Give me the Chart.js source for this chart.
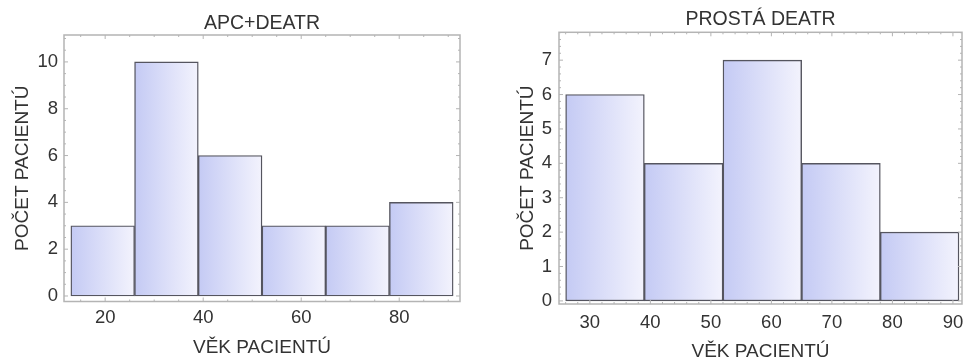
<!DOCTYPE html>
<html><head><meta charset="utf-8">
<script src="https://cdn.jsdelivr.net/npm/chart.js@4"></script>
<style>
html,body{margin:0;padding:0;background:#fff;overflow:hidden;width:963px;height:362px;}
#l{position:absolute;left:0;top:0;width:481px;height:362px;}
#r{position:absolute;left:481px;top:0;width:482px;height:362px;}
</style></head><body>
<div id="l"><canvas id="c1"></canvas></div>
<div id="r"><canvas id="c2"></canvas></div>
<script>
// ---- data ----
const leftTitle = 'APC+DEATR';
const leftBinEdges = [13, 26, 39, 52, 65, 78, 91];
const leftCounts = [3, 10, 6, 3, 3, 4];
const leftXTicks = [20, 40, 60, 80];
const leftYTicks = [0, 2, 4, 6, 8, 10];

const rightTitle = 'PROSTÁ DEATR';
const rightBinEdges = [26, 39, 52, 65, 78, 91];
const rightCounts = [6, 4, 7, 4, 2];
const rightXTicks = [30, 40, 50, 60, 70, 80, 90];
const rightYTicks = [0, 1, 2, 3, 4, 5, 6, 7];

const xAxisTitle = 'VĚK PACIENTÚ';
const yAxisTitle = 'POČET PACIENTÚ';

// ---- styling ----
const FONT = 'Liberation Sans, Arial, sans-serif';
const TEXT = '#333333';

const framePlugin = {
  id: 'frame',
  afterDatasetsDraw(chart, args, opts) {
    const {ctx, chartArea: a, scales: {x, y}} = chart;
    ctx.save();
    ctx.strokeStyle = '#b4b4b4';
    ctx.lineWidth = 1.5;
    ctx.strokeRect(a.left, a.top, a.right - a.left, a.bottom - a.top);
    ctx.lineWidth = 1;
    const tick = (x1, y1, x2, y2) => { ctx.beginPath(); ctx.moveTo(x1, y1); ctx.lineTo(x2, y2); ctx.stroke(); };
    for (let v = Math.ceil(x.min / opts.xMinor) * opts.xMinor; v <= x.max; v += opts.xMinor) {
      const px = x.getPixelForValue(v);
      const major = Math.abs(v / opts.xMajor - Math.round(v / opts.xMajor)) < 1e-6;
      const len = major ? 4 : 2;
      tick(px, a.bottom, px, a.bottom - len);
      tick(px, a.top, px, a.top + len);
    }
    for (let v = Math.ceil(y.min / opts.yMinor) * opts.yMinor; v <= y.max + 1e-9; v += opts.yMinor) {
      const py = y.getPixelForValue(v);
      const major = Math.abs(v / opts.yMajor - Math.round(v / opts.yMajor)) < 1e-6;
      const len = major ? 4 : 2;
      tick(a.left, py, a.left + len, py);
      tick(a.right, py, a.right - len, py);
    }
    ctx.restore();
  }
};

function makeChart(id, cfg) {
  const edges = cfg.edges;
  const data = cfg.counts.map((c, i) => ({x: (edges[i] + edges[i + 1]) / 2, y: c}));
  return new Chart(document.getElementById(id), {
    type: 'bar',
    data: {datasets: [{
      data,
      barThickness: 'flex',
      barPercentage: 1,
      categoryPercentage: 1,
      borderWidth: 1.4,
      borderColor: '#55555f',
      borderSkipped: false,
      backgroundColor: (c) => {
        const sx = c.chart.scales && c.chart.scales.x;
        if (!sx || c.dataIndex === undefined) return '#dde0f8';
        const i = c.dataIndex;
        const x0 = sx.getPixelForValue(edges[i]);
        const x1 = sx.getPixelForValue(edges[i + 1]);
        if (!isFinite(x0) || !isFinite(x1) || x1 <= x0) return '#dde0f8';
        const g = c.chart.ctx.createLinearGradient(x0, 0, x1, 0);
        g.addColorStop(0, '#c4caf4');
        g.addColorStop(1, '#f3f3fd');
        return g;
      }
    }]},
    options: {
      responsive: true,
      maintainAspectRatio: false,
      animation: false,
      layout: {padding: {left: 0, right: cfg.padRight, top: 0, bottom: 0}},
      plugins: {
        legend: {display: false},
        tooltip: {enabled: false},
        title: {
          display: true, text: cfg.title, fullSize: false, color: TEXT,
          font: {family: FONT, size: 19.5, weight: 'normal', lineHeight: 1.2},
          padding: {top: cfg.titleTop, bottom: cfg.titleBottom}
        },
        frame: cfg.frame
      },
      scales: {
        x: {
          type: 'linear', min: cfg.xMin, max: cfg.xMax, offset: false,
          afterFit(s) { s.height = cfg.xAxisH; s.paddingLeft = 0; s.paddingRight = 0; },
          afterBuildTicks(s) { s.ticks = cfg.xTicks.map(v => ({value: v})); },
          grid: {display: false, drawTicks: false, offset: false},
          border: {display: false},
          ticks: {padding: cfg.xTickPad, color: TEXT, font: {family: FONT, size: 18.5}, maxRotation: 0, autoSkip: false},
          title: {display: true, text: xAxisTitle, color: TEXT,
            font: {family: FONT, size: 19, lineHeight: 1}, padding: {top: 0, bottom: cfg.xTitlePad}}
        },
        y: {
          type: 'linear', min: cfg.yMin, max: cfg.yMax,
          afterFit(s) { s.width = cfg.yAxisW; s.paddingTop = 0; s.paddingBottom = 0; },
          afterBuildTicks(s) { s.ticks = cfg.yTicks.map(v => ({value: v})); },
          grid: {display: false, drawTicks: false},
          border: {display: false},
          ticks: {padding: cfg.yTickPad, color: TEXT, font: {family: FONT, size: 18.5}, autoSkip: false},
          title: {display: true, text: yAxisTitle, color: TEXT,
            font: {family: FONT, size: 19, lineHeight: 1}, padding: {top: cfg.yTitlePad, bottom: 0}}
        }
      }
    },
    plugins: [framePlugin]
  });
}

makeChart('c1', {
  title: leftTitle, edges: leftBinEdges, counts: leftCounts,
  xTicks: leftXTicks, yTicks: leftYTicks,
  xMin: 11.6, xMax: 92.4, yMin: -0.235, yMax: 11.15,
  padRight: 21, titleTop: 11.6, titleBottom: 0,
  xAxisH: 60.5, yAxisW: 64, xTitlePad: 4.5, yTitlePad: 13.5, yTickPad: 6, xTickPad: 5,
  frame: {xMajor: 20, xMinor: 5, yMajor: 2, yMinor: 0.5}
});
makeChart('c2', {
  title: rightTitle, edges: rightBinEdges, counts: rightCounts,
  xTicks: rightXTicks, yTicks: rightYTicks,
  xMin: 24.9, xMax: 91.5, yMin: -0.09, yMax: 7.81,
  padRight: 1, titleTop: 8.3, titleBottom: 0.6,
  xAxisH: 58, yAxisW: 78, xTitlePad: 0.5, yTitlePad: 37.5, yTickPad: 7, xTickPad: 7.5,
  frame: {xMajor: 10, xMinor: 2, yMajor: 1, yMinor: 0.2}
});
</script>
</body></html>
